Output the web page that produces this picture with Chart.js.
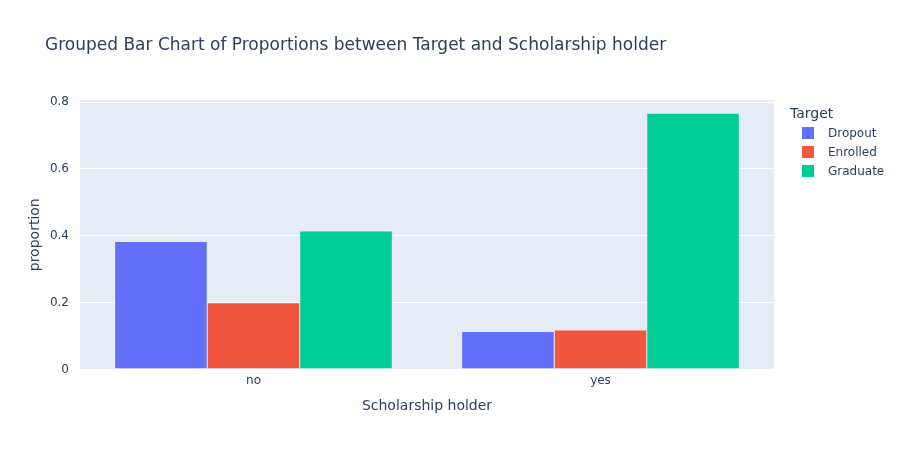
<!DOCTYPE html>
<html>
<head>
<meta charset="utf-8">
<script src="https://cdn.jsdelivr.net/npm/chart.js@4"></script>
<style>
  html, body { margin: 0; padding: 0; background: #fff; }
  #wrap { width: 901px; height: 450px; position: relative; }
</style>
</head>
<body>
<div id="wrap"><canvas id="grafico"></canvas></div>
<script>
// dados
const categorias = ['no', 'yes'];
const dropout = [0.383, 0.114];
const enrolled = [0.200, 0.118];
const graduate = [0.414, 0.766];
const yTicks = [0, 0.2, 0.4, 0.6, 0.8];

const FONTE = '"DejaVu Sans", Verdana, sans-serif';
const COR_TEXTO = '#2a3f5f';

// titulo, legenda e fundo da area do grafico
const extras = {
    id: 'extras',
    beforeDraw(chart) {
        const { ctx, chartArea } = chart;
        ctx.save();
        ctx.fillStyle = '#E5ECF6';
        ctx.fillRect(chartArea.left, chartArea.top, chartArea.right - chartArea.left, chartArea.bottom - chartArea.top);
        ctx.restore();
    },
    afterDraw(chart) {
        const { ctx } = chart;
        ctx.save();
        ctx.fillStyle = COR_TEXTO;
        ctx.textBaseline = 'alphabetic';
        ctx.font = '17px ' + FONTE;
        ctx.fillText('Grouped Bar Chart of Proportions between Target and Scholarship holder', 45, 50);

        ctx.font = '14px ' + FONTE;
        ctx.fillText('Target', 790, 118);
        ctx.font = '12px ' + FONTE;
        chart.data.datasets.forEach(function (ds, i) {
            const y = 127 + i * 19;
            ctx.fillStyle = ds.backgroundColor;
            ctx.fillRect(802, y, 12, 12);
            ctx.fillStyle = COR_TEXTO;
            ctx.fillText(ds.label, 828, y + 10);
        });
        ctx.restore();
    }
};

new Chart(document.getElementById('grafico'), {
    type: 'bar',
    data: {
        labels: categorias,
        datasets: [{
            label: 'Dropout',
            backgroundColor: '#636EFA',
            borderColor: '#E5ECF6',
            borderWidth: 0.5,
            data: dropout
        },
        {
            label: 'Enrolled',
            backgroundColor: '#EF553B',
            borderColor: '#E5ECF6',
            borderWidth: 0.5,
            data: enrolled
        },
        {
            label: 'Graduate',
            backgroundColor: '#00CC96',
            borderColor: '#E5ECF6',
            borderWidth: 0.5,
            data: graduate
        }]
    },
    options: {
        responsive: true,
        maintainAspectRatio: false,
        animation: false,
        layout: {
            padding: { left: 0, right: 127, top: 100, bottom: 35 }
        },
        plugins: {
            legend: { display: false },
            title: { display: false },
            tooltip: { enabled: false }
        },
        datasets: {
            bar: { categoryPercentage: 0.8, barPercentage: 1.0 }
        },
        scales: {
            x: {
                afterFit: function (scale) { scale.height = 45.5; },
                grid: { display: false, drawTicks: false },
                border: { display: false },
                ticks: {
                    color: COR_TEXTO,
                    font: { family: FONTE, size: 12 },
                    padding: 4
                },
                title: {
                    display: true,
                    text: 'Scholarship holder',
                    color: COR_TEXTO,
                    font: { family: FONTE, size: 14 },
                    padding: { top: 0, bottom: 0 }
                }
            },
            y: {
                min: 0,
                max: 0.806,
                afterFit: function (scale) { scale.width = 80; },
                afterBuildTicks: function (scale) {
                    scale.ticks = yTicks.map(function (v) { return { value: v }; });
                },
                grid: {
                    color: '#ffffff',
                    lineWidth: function (c) { return c.tick && c.tick.value === 0 ? 2 : 1; },
                    drawTicks: false
                },
                border: { display: false },
                ticks: {
                    color: COR_TEXTO,
                    font: { family: FONTE, size: 12 },
                    padding: 11,
                    callback: function (v) { return String(v); }
                },
                title: {
                    display: true,
                    text: 'proportion',
                    color: COR_TEXTO,
                    font: { family: FONTE, size: 14 },
                    padding: { top: 27, bottom: 0 }
                }
            }
        }
    },
    plugins: [extras]
});
</script>
</body>
</html>
